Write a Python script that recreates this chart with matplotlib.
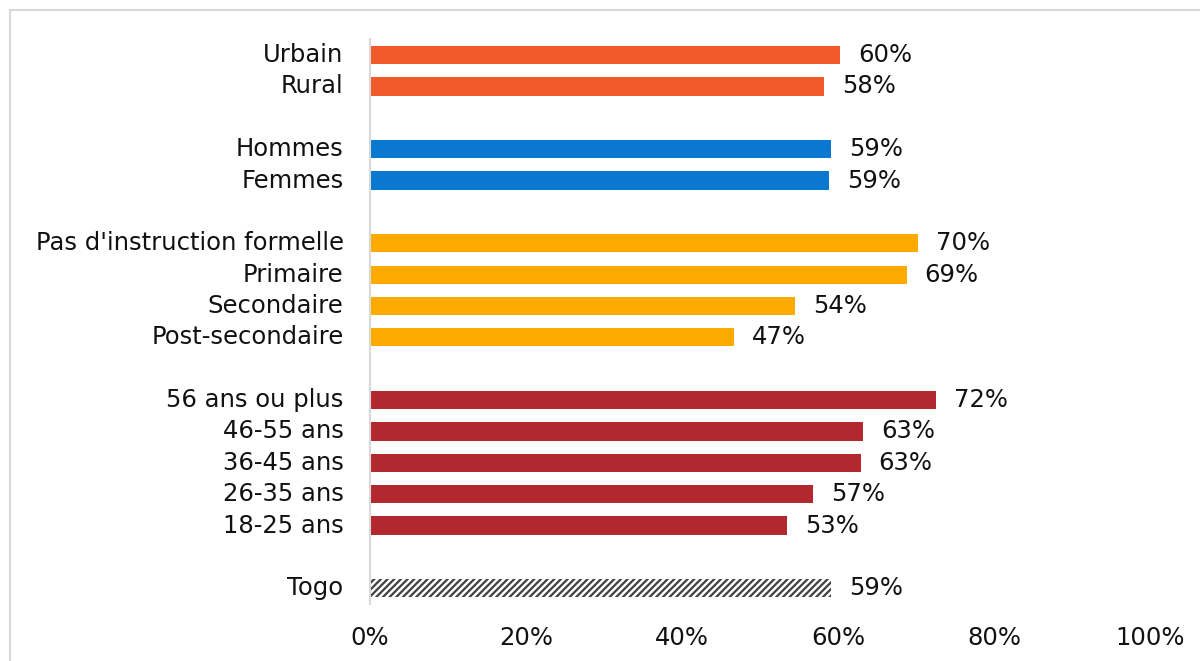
import numpy as np
import matplotlib
matplotlib.use("Agg")
import matplotlib.pyplot as plt
from matplotlib.patches import Rectangle

# données (en %)
categories = ["Urbain", "Rural",
              "Hommes", "Femmes",
              "Pas d'instruction formelle", "Primaire", "Secondaire", "Post-secondaire",
              "56 ans ou plus", "46-55 ans", "36-45 ans", "26-35 ans", "18-25 ans",
              "Togo"]
valeurs = [60.3, 58.2,
           59.1, 58.8,
           70.3, 68.8, 54.5, 46.7,
           72.6, 63.2, 62.9, 56.8, 53.5,
           59.1]
etiquettes = ["60%", "58%",
              "59%", "59%",
              "70%", "69%", "54%", "47%",
              "72%", "63%", "63%", "57%", "53%",
              "59%"]
groupes = ["milieu", "milieu",
           "sexe", "sexe",
           "instr", "instr", "instr", "instr",
           "age", "age", "age", "age", "age",
           "total"]
# positions des lignes (avec une ligne vide entre groupes)
positions = [0, 1, 3, 4, 6, 7, 8, 9, 11, 12, 13, 14, 15, 17]

couleurs = {"milieu": "#F15A2B", "sexe": "#0A77D0", "instr": "#FFAA00",
            "age": "#B3282E", "total": "white"}

plt.rcParams['font.family'] = ['DejaVu Sans']
plt.rcParams['hatch.linewidth'] = 1.6

TAILLE = 17.5

fig = plt.figure(figsize=(12, 6.61), dpi=100)
ax = fig.add_axes([370/1200, 1 - 604/661, 780/1200, (604 - 39.4)/661])

for pos, v, g, lab in zip(positions, valeurs, groupes, etiquettes):
    if g == "total":
        ax.barh(pos, v, height=0.58, color="white", edgecolor="#404040",
                hatch="/////", linewidth=0)
    else:
        ax.barh(pos, v, height=0.58, color=couleurs[g], linewidth=0)
    ax.annotate(lab, (v, pos), xytext=(13, 0), textcoords="offset points",
                va="center", ha="left", fontsize=TAILLE, color="#111111")

ax.set_xlim(0, 100)
ax.set_ylim(17.5, -0.5)
ax.set_yticks(positions)
ax.set_yticklabels(categories, fontsize=TAILLE, color="#111111", va="center")
ax.set_xticks(np.arange(0, 101, 20))
ax.set_xticklabels([f"{t}%" for t in range(0, 101, 20)], fontsize=TAILLE, color="#111111")
ax.tick_params(axis="both", length=0)
ax.tick_params(axis="y", pad=19)
ax.tick_params(axis="x", pad=15.5)

for s in ["top", "right", "bottom"]:
    ax.spines[s].set_visible(False)
ax.spines["left"].set_color("#D9D9D9")
ax.spines["left"].set_linewidth(1.5)

# cadre du graphique
fig.patches.append(Rectangle((10/1200, -0.1), 1.2, 1.1 - 10/661,
                             transform=fig.transFigure, fill=False,
                             edgecolor="#D9D9D9", linewidth=1.5))

fig.savefig("out.png", dpi=100)
